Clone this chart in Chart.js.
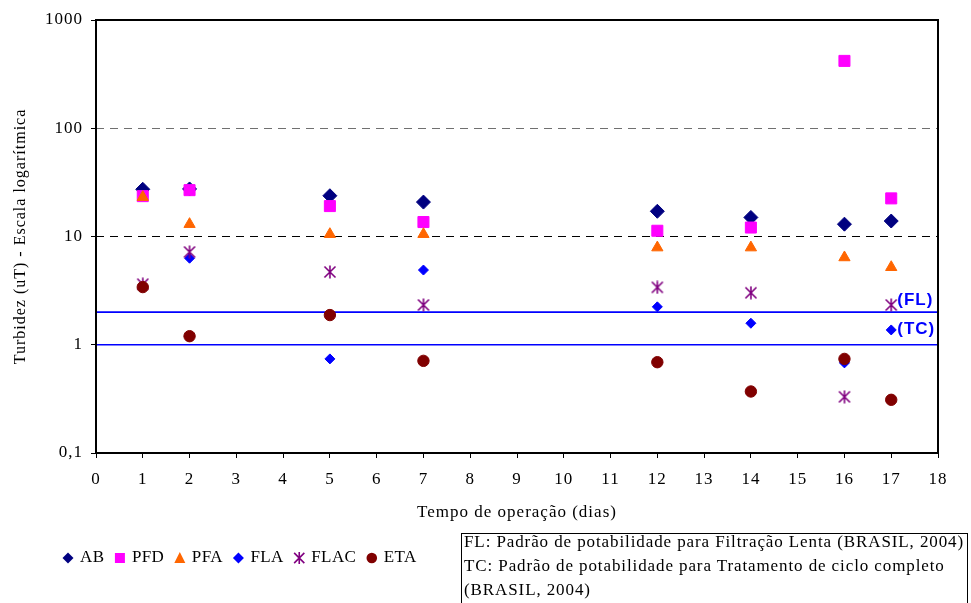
<!DOCTYPE html>
<html>
<head>
<meta charset="utf-8">
<script src="https://cdn.jsdelivr.net/npm/chart.js@4.4.1/dist/chart.umd.min.js"></script>
<style>
  html, body { margin: 0; padding: 0; background: #fff; overflow: hidden; }
  #wrap { position: relative; width: 971px; height: 603px; }
  #note {
    position: absolute; left: 461px; top: 533px; width: 507px; height: 90px;
    border: 1px solid #000; box-sizing: border-box; padding: 0 0 0 2px;
    font-family: "Liberation Serif", "Times New Roman", serif; font-size: 17px;
    line-height: 24px; letter-spacing: 0.9px; color: #000; white-space: nowrap;
  }
  #note div { margin-top: -4px; }
</style>
</head>
<body>
<div id="wrap">
  <canvas id="chart" width="971" height="603"></canvas>
  <div id="note"><div>FL: Padrão de potabilidade para Filtração Lenta (BRASIL, 2004)<br>TC: Padrão de potabilidade para Tratamento de ciclo completo<br>(BRASIL, 2004)</div></div>
</div>
<script>
// operation days where samples were taken
const days = [1, 2, 5, 7, 12, 14, 16, 17];

// turbidity (uT) per sampling point
const ab   = [27.3, 27.5, 23.8, 20.8, 17.1, 15.0, 13.0, 13.9];
const pfd  = [23.6, 26.8, 19.1, 13.6, 11.3, 12.1, 419, 22.5];
const pfa  = [23.1, 13.0, 10.5, 10.5, 7.9, 7.9, 6.4, 5.2];
const fla  = [3.4, 6.3, 0.74, 4.9, 2.24, 1.58, 0.68, 1.37];
const flac = [3.63, 7.2, 4.7, 2.33, 3.39, 3.02, 0.33, 2.33];
const eta  = [3.41, 1.2, 1.88, 0.71, 0.69, 0.37, 0.74, 0.31];

// potability limits
const limitFL = 2;
const limitTC = 1;

const yTicks = [0.1, 1, 10, 100, 1000];
const xMin = 0, xMax = 18;

const SERIF = '"Liberation Serif", "Times New Roman", serif';

// asterisk marker (X plus vertical bar), like the spreadsheet "star"
function drawAsterisk(g, x, y, r, color) {
  g.save();
  g.strokeStyle = color;
  g.lineWidth = 1.6;
  const d = r * 0.85;
  g.beginPath();
  g.moveTo(x - d, y - d); g.lineTo(x + d, y + d);
  g.moveTo(x + d, y - d); g.lineTo(x - d, y + d);
  g.moveTo(x, y - r); g.lineTo(x, y + r);
  g.stroke();
  g.restore();
}

function asteriskImage(size, color) {
  const c = document.createElement('canvas');
  c.width = size; c.height = size;
  drawAsterisk(c.getContext('2d'), size / 2, size / 2, size / 2 - 0.5, color);
  return c;
}

const toPoints = (vals) => days.map((d, i) => ({ x: d, y: vals[i] }));

function series(label, vals, color, style, radius, idx) {
  return {
    label: label,
    data: toPoints(vals),
    backgroundColor: color,
    borderColor: color,
    borderWidth: 1,
    pointStyle: style,
    pointRadius: radius,
    pointHoverRadius: radius,
    order: 10 - idx, // later series on top
    legendMark: { style: style, color: color }
  };
}

function limitLine(value) {
  return {
    type: 'line',
    data: [{ x: xMin, y: value }, { x: xMax, y: value }],
    borderColor: '#0000FF',
    borderWidth: 1.6,
    pointRadius: 0,
    showLine: true,
    order: 50
  };
}

const datasets = [
  series('AB', ab, '#000080', 'rectRot', 7, 0),
  series('PFD', pfd, '#FF00FF', 'rect', 7.8, 1),
  series('PFA', pfa, '#FF6600', 'triangle', 6.5, 2),
  series('FLA', fla, '#0000FF', 'rectRot', 5, 3),
  series('FLAC', flac, '#800080', asteriskImage(14, '#800080'), 7, 4),
  series('ETA', eta, '#800000', 'circle', 5.7, 5),
  limitLine(limitFL),
  limitLine(limitTC)
];

// legend marks drawn below the plot
function legendMark(g, mark, x, y) {
  const s = mark.style;
  g.save();
  g.fillStyle = mark.color;
  g.beginPath();
  if (s === 'rectRot') {
    g.moveTo(x, y - 5.5); g.lineTo(x + 5.5, y); g.lineTo(x, y + 5.5); g.lineTo(x - 5.5, y);
  } else if (s === 'rect') {
    g.rect(x - 5, y - 5, 10, 10);
  } else if (s === 'triangle') {
    g.moveTo(x, y - 6); g.lineTo(x + 5.5, y + 5); g.lineTo(x - 5.5, y + 5);
  } else if (s === 'circle') {
    g.arc(x, y, 5.3, 0, Math.PI * 2);
  } else {
    g.restore();
    drawAsterisk(g, x, y, 6, mark.color);
    return;
  }
  g.closePath();
  g.fill();
  g.restore();
}

const textLook = {
  id: 'textLook',
  beforeLayout(chart) { chart.ctx.letterSpacing = '1px'; },
  beforeDraw(chart) { chart.ctx.letterSpacing = '1px'; }
};

const frame = {
  id: 'frame',
  afterDatasetsDraw(chart) {
    const { ctx, chartArea: a } = chart;
    const xs = chart.scales.x, ys = chart.scales.y;
    ctx.save();
    ctx.strokeStyle = '#000';
    ctx.lineWidth = 2;
    ctx.strokeRect(a.left, a.top, a.right - a.left, a.bottom - a.top);
    // limit labels next to the last day
    ctx.font = 'bold 17px "Liberation Sans", Arial, sans-serif';
    ctx.fillStyle = '#0000FF';
    ctx.textBaseline = 'middle';
    ctx.textAlign = 'left';
    const lx = xs.getPixelForValue(days[days.length - 1]) + 6;
    ctx.fillText('(FL)', lx, ys.getPixelForValue(limitFL) - 12);
    ctx.fillText('(TC)', lx, ys.getPixelForValue(limitTC) - 15);
    ctx.restore();
  },
  afterDraw(chart) {
    const ctx = chart.ctx;
    ctx.save();
    ctx.font = '17px ' + SERIF;
    ctx.letterSpacing = '0.4px';
    ctx.fillStyle = '#000';
    ctx.textBaseline = 'middle';
    ctx.textAlign = 'left';
    let x = 68;
    const y = 558;
    chart.data.datasets.forEach((ds) => {
      if (!ds.legendMark) return;
      legendMark(ctx, ds.legendMark, x, y);
      ctx.fillText(ds.label, x + 12, y);
      x += 12 + ctx.measureText(ds.label).width + 15.5;
    });
    ctx.restore();
  }
};

new Chart(document.getElementById('chart'), {
  type: 'scatter',
  data: { datasets: datasets },
  plugins: [textLook, frame],
  options: {
    responsive: false,
    animation: false,
    layout: { padding: { top: 20, right: 33, bottom: 75, left: 0 } },
    plugins: {
      legend: { display: false },
      tooltip: { enabled: false }
    },
    scales: {
      x: {
        type: 'linear',
        min: xMin,
        max: xMax,
        afterFit: (s) => { s.height = 75; },
        border: { display: false },
        grid: { drawOnChartArea: false, drawTicks: true, tickLength: 5, tickColor: '#000', tickWidth: 1 },
        ticks: { stepSize: 1, autoSkip: false, maxRotation: 0, padding: 11, color: '#000', font: { family: SERIF, size: 17 } },
        title: { display: true, text: 'Tempo de operação (dias)', color: '#000', font: { family: SERIF, size: 17 }, padding: { top: 4, bottom: 5 } }
      },
      y: {
        type: 'logarithmic',
        min: 0.1,
        max: 1000,
        afterFit: (s) => { s.width = 96; },
        afterBuildTicks: (s) => { s.ticks = yTicks.map((v) => ({ value: v })); },
        border: { display: false, dash: [8, 6] },
        grid: {
          color: (c) => {
            if (!c.tick) return 'rgba(0,0,0,0)';
            if (c.tick.value === 10) return '#000';
            if (c.tick.value === 100) return '#707070';
            return 'rgba(0,0,0,0)';
          },
          lineWidth: 1,
          drawTicks: true,
          tickLength: 5,
          tickColor: '#000',
          tickWidth: 1
        },
        ticks: {
          padding: 8,
          color: '#000',
          font: { family: SERIF, size: 17 },
          callback: (v) => (v === 0.1 ? '0,1' : String(v))
        },
        title: { display: true, text: 'Turbidez (uT) - Escala logarítmica', color: '#000', font: { family: SERIF, size: 16 }, padding: { top: 11, bottom: 0 } }
      }
    }
  }
});
</script>
</body>
</html>
